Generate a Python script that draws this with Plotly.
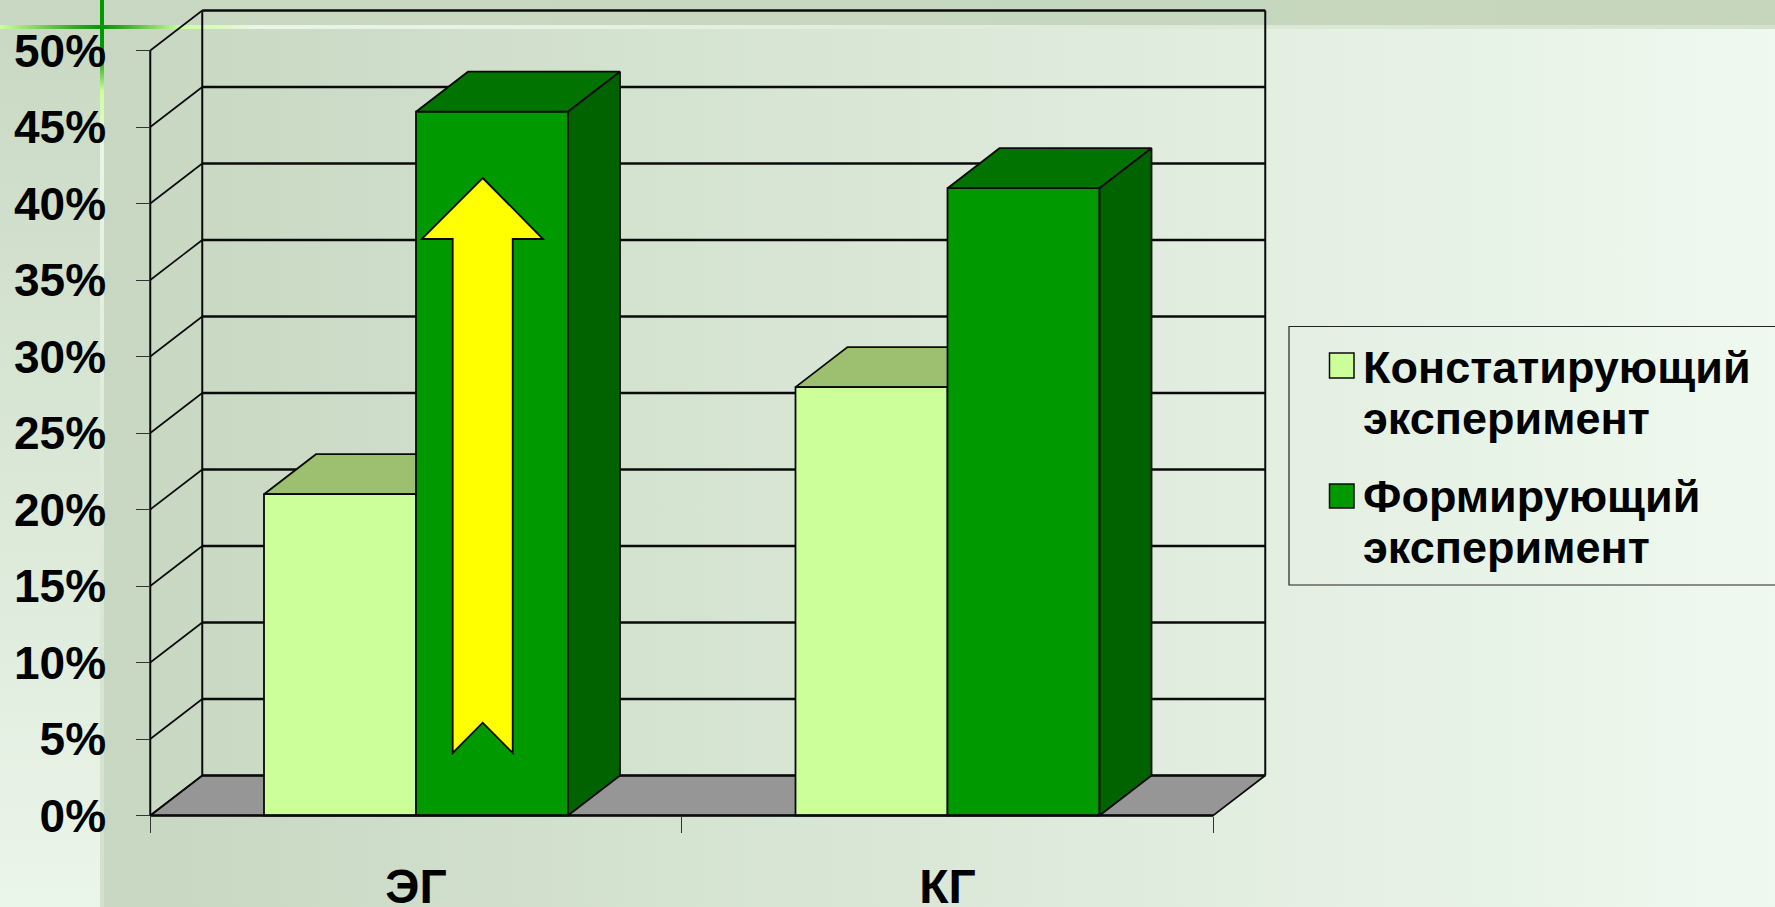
import plotly.graph_objects as go

# ---- data ----
categories = ["ЭГ", "КГ"]
series_names = ["Констатирующий эксперимент", "Формирующий эксперимент"]
light_values = [21, 28]
dark_values = [46, 41]
y_ticks = [0, 5, 10, 15, 20, 25, 30, 35, 40, 45, 50]
legend_lines = [["Констатирующий", "эксперимент"], ["Формирующий", "эксперимент"]]

# ---- layout constants ----
W, H = 1775, 907
Y0_PX, PX_PER_PCT = 815.5, 15.3
X0_PX, PX_PER_CAT = 416.0, 531.5
DEPTH_X = 52 / PX_PER_CAT
DEPTH_Y = 40 / PX_PER_PCT
BAR_W = 152 / PX_PER_CAT
X_L, X_R = -0.5, 1.5
Y_TOP = y_ticks[-1]

LIGHT, LIGHT_TOP = "#ccff99", "#9cc070"
DARK, DARK_TOP, DARK_SIDE = "#009900", "#007300", "#006300"
FLOOR = "#969696"
LINE = "#0a0a0a"


def dx(px):
    return (px - X0_PX) / PX_PER_CAT


def dy(py):
    return (Y0_PX - py) / PX_PER_PCT


x_range = [dx(0), dx(W)]
y_range = [dy(H), dy(0)]


def grad_poly(x0, x1, y0, y1, kind, scale, axes=("x", "y")):
    return go.Scatter(
        x=[dx(x0), dx(x1), dx(x1), dx(x0), dx(x0)],
        y=[dy(y0), dy(y0), dy(y1), dy(y1), dy(y0)],
        mode="lines", line=dict(width=0), fill="toself",
        fillgradient=dict(type=kind, colorscale=scale),
        hoverinfo="skip", showlegend=False, xaxis=axes[0], yaxis=axes[1],
    )


def poly(xs, ys, fill, axes, width=1.8):
    return go.Scatter(
        x=xs + xs[:1], y=ys + ys[:1], mode="lines",
        line=dict(color=LINE, width=width), fill="toself", fillcolor=fill,
        hoverinfo="skip", showlegend=False, xaxis=axes[0], yaxis=axes[1],
    )


def segments(pairs, width, axes=("x", "y"), color=LINE):
    xs, ys = [], []
    for (a, b), (c, d) in pairs:
        xs += [a, c, None]
        ys += [b, d, None]
    return go.Scatter(x=xs, y=ys, mode="lines", line=dict(color=color, width=width),
                      hoverinfo="skip", showlegend=False, xaxis=axes[0], yaxis=axes[1])


fig = go.Figure()

# ---- slide background ----
A = ("x", "y")
B = ("x2", "y2")
fig.add_trace(grad_poly(102, W, 0, H, "horizontal", [[0, "#c7d7c1"], [1, "#eff9ef"]]))
# vertical gradients run bottom to top
fig.add_trace(grad_poly(0, 100, 0, H, "vertical", [[0, "#ebf6ea"], [1, "#c8d8c2"]]))
fig.add_trace(grad_poly(0, W, 0, 25, "horizontal", [[0, "#c8d8c2"], [1, "#c5d6bd"]]))
fig.add_trace(grad_poly(340, W, 25, 29, "horizontal", [[0, "#e9f4e6"], [1, "#d4e2cc"]]))
fig.add_trace(grad_poly(0, 340, 25, 29, "horizontal",
                        [[0, "#ccff99"], [0.22, "#33aa22"], [0.3, "#009900"], [0.36, "#33aa22"],
                         [0.53, "#ccff99"], [0.75, "#e9f5e6"], [1, "#e9f4e6"]]))
fig.add_trace(grad_poly(100, 104, 0, H, "vertical",
                        [[0, "#d2e0cc"], [0.5, "#dfeadb"], [0.84, "#e9f5e6"], [0.9, "#ccff99"],
                         [0.94, "#009900"], [1, "#009900"]]))

# ---- chart walls and floor ----
fig.add_trace(poly([X_L, X_R, X_R + DEPTH_X, X_L + DEPTH_X], [0, 0, DEPTH_Y, DEPTH_Y], FLOOR, A, 1.6))
fig.add_trace(segments([((X_L + DEPTH_X, t + DEPTH_Y), (X_R + DEPTH_X, t + DEPTH_Y)) for t in y_ticks], 2.4))
fig.add_trace(segments([((X_L, t), (X_L + DEPTH_X, t + DEPTH_Y)) for t in y_ticks], 1.6))
fig.add_trace(segments([((X_L, 0), (X_L, Y_TOP)),
                        ((X_L + DEPTH_X, DEPTH_Y), (X_L + DEPTH_X, Y_TOP + DEPTH_Y)),
                        ((X_R + DEPTH_X, DEPTH_Y), (X_R + DEPTH_X, Y_TOP + DEPTH_Y))], 2))

# ---- light bars' top (behind every bar front) ----
for i, v in enumerate(light_values):
    a, b = i - BAR_W, i
    fig.add_trace(poly([a, b, b + DEPTH_X, a + DEPTH_X], [v, v, v + DEPTH_Y, v + DEPTH_Y], LIGHT_TOP, A))

# ---- bar fronts ----
fig.add_trace(go.Bar(x=[0, 1], y=light_values, name=series_names[0], xaxis="x2", yaxis="y2",
                     marker=dict(color=LIGHT, line=dict(color=LINE, width=1.8)), showlegend=False))
fig.add_trace(go.Bar(x=[0, 1], y=dark_values, name=series_names[1], xaxis="x2", yaxis="y2",
                     marker=dict(color=DARK, line=dict(color=LINE, width=1.8)), showlegend=False))

# ---- dark bars' side and top ----
for i, v in enumerate(dark_values):
    a, b = i, i + BAR_W
    fig.add_trace(poly([a, b, b + DEPTH_X, a + DEPTH_X], [v, v, v + DEPTH_Y, v + DEPTH_Y], DARK_TOP, B))
    fig.add_trace(poly([b, b + DEPTH_X, b + DEPTH_X, b], [0, DEPTH_Y, v + DEPTH_Y, v], DARK_SIDE, B))

# ---- baseline ----
fig.add_trace(segments([((X_L, 0), (X_R, 0))], 2.4, B))

# ---- arrow ----
arrow_px = [(482.7, 178), (543, 239), (512.7, 239), (512.7, 753), (482.7, 722.7),
            (452.7, 753), (452.7, 239), (421.7, 239)]
arrow_path = "M" + "L".join(f"{dx(px)},{dy(py)}" for px, py in arrow_px) + "Z"
shapes = [dict(type="path", xref="x", yref="y", path=arrow_path, fillcolor="#ffff00",
               line=dict(color=LINE, width=1.8), layer="above")]

# ---- legend box ----
def fx(px):
    return px / W


def fy(py):
    return 1 - py / H


shapes.append(dict(type="rect", xref="paper", yref="paper", x0=fx(1289), x1=1.01,
                   y0=fy(585), y1=fy(326.5), line=dict(color="#222222", width=1.2),
                   fillcolor="rgba(0,0,0,0)", layer="above"))
swatches = [(353, 378, LIGHT), (484, 508, DARK)]
for top, bottom, col in swatches:
    shapes.append(dict(type="rect", xref="paper", yref="paper", x0=fx(1329.5), x1=fx(1354),
                       y0=fy(bottom), y1=fy(top), fillcolor=col,
                       line=dict(color=LINE, width=1.5), layer="above"))

annotations = []
line_centres = [[367, 418], [496, 547]]
for lines, centres in zip(legend_lines, line_centres):
    for text, yc in zip(lines, centres):
        annotations.append(dict(text=text, xref="paper", yref="paper", x=fx(1361), y=fy(yc),
                                xanchor="left", yanchor="middle", showarrow=False, align="left",
                                font=dict(family="Liberation Sans", size=45, color="#000000", weight="bold")))

axis_font = dict(family="Liberation Sans", size=46, color="#000000", weight="bold")
xaxis_font = dict(family="Liberation Sans", size=48, color="#000000", weight="bold")
fig.update_layout(
    width=W, height=H, autosize=False,
    margin=dict(l=0, r=0, t=0, b=0, pad=0, autoexpand=False),
    paper_bgcolor="#e0ecdc", plot_bgcolor="rgba(0,0,0,0)",
    showlegend=False, barmode="group", bargap=1 - 2 * BAR_W, bargroupgap=0,
    shapes=shapes, annotations=annotations,
    xaxis=dict(domain=[0, 1], range=x_range, anchor="free", position=(H - Y0_PX) / H,
               tickmode="array", tickvals=[0, 1], ticktext=categories, ticks="",
               ticklabelstandoff=38, tickfont=xaxis_font, showgrid=False, zeroline=False,
               showline=False, fixedrange=True, automargin=False,
               minor=dict(tickmode="array", tickvals=[X_L, 0.5, X_R], ticks="outside",
                          ticklen=16, tickwidth=1.2, tickcolor="#333333", showgrid=False)),
    yaxis=dict(domain=[0, 1], range=y_range, anchor="free", position=(X_L * PX_PER_CAT + X0_PX) / W,
               tickmode="array", tickvals=y_ticks, ticktext=[f"{t}%" for t in y_ticks],
               ticks="outside", ticklen=14, tickwidth=1.2, tickcolor="#333333",
               ticklabelstandoff=21, tickfont=axis_font, showgrid=False, zeroline=False,
               showline=False, fixedrange=True, automargin=False),
    xaxis2=dict(range=x_range, overlaying="x", anchor="y2", visible=False, fixedrange=True),
    yaxis2=dict(range=y_range, overlaying="y", anchor="x2", visible=False, fixedrange=True),
)

fig.write_html("out.html", config=dict(displayModeBar=False),
               post_script="document.body.style.margin='0';document.body.style.overflow='hidden';")
